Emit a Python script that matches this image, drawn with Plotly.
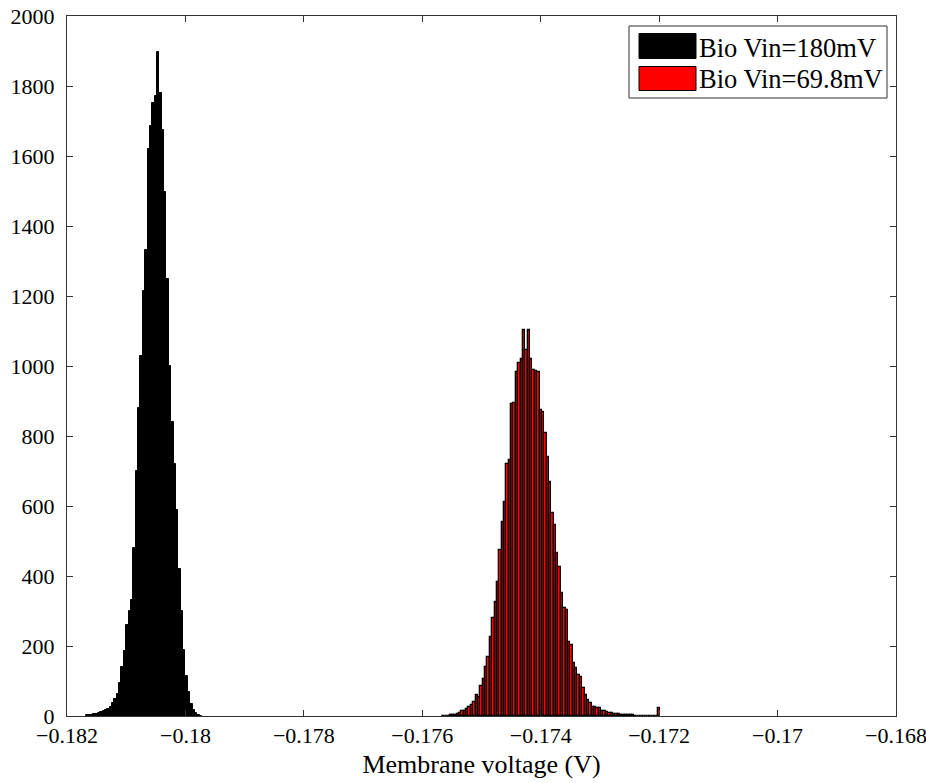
import plotly.graph_objects as go

# Histogram bin layout (volts)
bin_width = 0.00004
black_start = -0.18166
red_start = -0.17564

series_names = ["Bio Vin=180mV", "Bio Vin=69.8mV"]
series_colors = ["black", "#ff0000"]

# Counts: Bio Vin = 180 mV
black_counts = [2, 3, 3, 5, 7, 9, 11, 13, 16, 20,
                27, 37, 48, 62, 94, 140, 185, 260, 300, 331,
                480, 700, 880, 1030, 1215, 1331, 1620, 1686, 1751, 1771,
                1898, 1781, 1674, 1498, 1250, 1000, 840, 720, 590, 420,
                300, 190, 115, 70, 35, 17, 8, 3, 1]

# Counts: Bio Vin = 69.8 mV
red_counts = [1, 1, 1, 2, 3, 4, 5, 9, 14, 14,
              19, 25, 31, 41, 60, 55, 86, 107, 141, 170,
              227, 279, 327, 384, 474, 555, 612, 720, 731, 891,
              895, 984, 1009, 1020, 1103, 1046, 1103, 1020, 989, 985,
              983, 874, 869, 808, 741, 669, 580, 546, 465, 427,
              351, 308, 303, 212, 203, 152, 136, 117, 112, 79,
              60, 46, 36, 27, 27, 22, 22, 15, 14, 12,
              10, 9, 7, 6, 5, 4, 4, 3, 2, 2,
              2, 1, 1, 1, 1, 1, 0, 1, 0, 0,
              0, 22]

x_ticks = [-0.182, -0.18, -0.178, -0.176, -0.174, -0.172, -0.17, -0.168]
x_tick_labels = ["−0.182", "−0.18", "−0.178", "−0.176", "−0.174", "−0.172", "−0.17", "−0.168"]
y_ticks = list(range(0, 2001, 200))

FONT = "Liberation Serif"

fig = go.Figure()
fig.add_trace(go.Bar(
    name=series_names[0], y=black_counts, x0=black_start, dx=bin_width, width=bin_width,
    marker=dict(color=series_colors[0], line=dict(color="black", width=1)),
    showlegend=False,
))
fig.add_trace(go.Bar(
    name=series_names[1], y=red_counts, x0=red_start, dx=bin_width, width=bin_width,
    marker=dict(color=series_colors[1], line=dict(color="black", width=1.3)),
    showlegend=False,
))

# Legend drawn MATLAB-style (large swatches)
L, W, T, H = 67, 829, 16, 700
def px(x):
    return (x - L) / W
def py(y):
    return (T + H - y) / H

shapes = [dict(type="rect", xref="paper", yref="paper",
               x0=px(629), x1=px(887), y0=py(98), y1=py(26),
               line=dict(color="#333", width=1), fillcolor="white", layer="above")]
annotations = []
rows = [(33.5, 58.5, 47.5), (66.5, 90.5, 78.5)]
for (top, bot, cy), name, col in zip(rows, series_names, series_colors):
    shapes.append(dict(type="rect", xref="paper", yref="paper",
                       x0=px(639), x1=px(696), y0=py(bot), y1=py(top),
                       line=dict(color="black", width=1), fillcolor=col, layer="above"))
    annotations.append(dict(xref="paper", yref="paper", x=px(697), y=py(cy),
                            xanchor="left", yanchor="middle", text=name, showarrow=False,
                            font=dict(family=FONT, size=26.5, color="black")))

fig.update_layout(
    width=926, height=783,
    barmode="overlay", bargap=0,
    paper_bgcolor="white", plot_bgcolor="white",
    margin=dict(l=L, r=926 - L - W, t=T, b=783 - T - H, autoexpand=False),
    font=dict(family=FONT, size=22, color="black"),
    showlegend=False,
    shapes=shapes, annotations=annotations,
)
fig.update_xaxes(
    range=[-0.182, -0.168], tickvals=x_ticks, ticktext=x_tick_labels,
    ticks="inside", ticklen=6, tickcolor="#333", mirror="ticks",
    showline=True, linecolor="#333", linewidth=1, showgrid=False, zeroline=False,
    title=dict(text="Membrane voltage (V)", font=dict(family=FONT, size=26), standoff=7),
    tickfont=dict(family=FONT, size=22), automargin=False, ticklabelstandoff=0,
    ticklabeloverflow="allow",
)
fig.update_yaxes(
    range=[0, 2000], tickvals=y_ticks,
    ticks="inside", ticklen=6, tickcolor="#333", mirror="ticks",
    showline=True, linecolor="#333", linewidth=1, showgrid=False, zeroline=False,
    tickfont=dict(family=FONT, size=22), automargin=False, ticklabelstandoff=7,
)

fig.write_html(
    "out.html",
    config={"displayModeBar": False},
    post_script="document.body.style.margin='0';document.body.style.overflow='hidden';",
)
